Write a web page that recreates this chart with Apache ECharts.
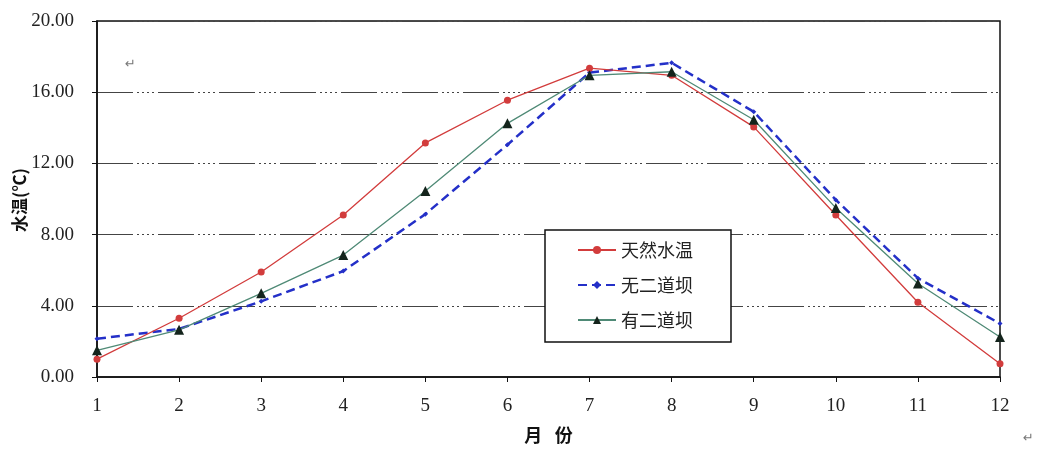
<!DOCTYPE html>
<html><head><meta charset="utf-8">
<script src="https://cdn.jsdelivr.net/npm/echarts@6/dist/echarts.min.js"></script>
<style>html,body{margin:0;padding:0;background:#fff}#c{width:1041px;height:450px}</style>
</head><body><div id="c"></div>
<script>
const months = [1,2,3,4,5,6,7,8,9,10,11,12];
const natural = [1.0,3.3,5.9,9.1,13.15,15.55,17.35,16.95,14.05,9.1,4.2,0.75];
const noDam = [2.15,2.7,4.25,5.95,9.15,13.05,17.1,17.65,14.9,9.95,5.55,3.0];
const withDam = [1.5,2.65,4.7,6.85,10.45,14.25,16.95,17.15,14.45,9.5,5.25,2.25];
const yTicks = [0,4,8,12,16,20];
const names = ['天然水温','无二道坝','有二道坝'];
const yName = '水温(℃)';
const xName = '月   份';
const pair = arr => months.map((m,i)=>[m,arr[i]]);
const serif = '"Liberation Serif", "Times New Roman", serif';
const cjk = '"Noto Sans CJK SC", sans-serif';
const chart = echarts.init(document.getElementById('c'));
chart.setOption({
  animation:false,
  backgroundColor:'#fff',
  grid:{left:97,right:41,top:21,bottom:73,outerBoundsMode:'none',containLabel:false,
    show:true,borderColor:'#111',borderWidth:1.5,backgroundColor:'transparent'},
  xAxis:{type:'value',min:1,max:12,interval:1,
    name:xName,nameLocation:'middle',nameGap:49,
    nameTextStyle:{fontFamily:cjk,fontWeight:'bold',fontSize:18,color:'#111'},
    axisLine:{lineStyle:{color:'#111',width:1.5}},
    axisTick:{show:true,length:5,lineStyle:{color:'#111'}},
    axisLabel:{fontFamily:serif,fontSize:19,color:'#222',margin:20},
    splitLine:{show:false}},
  yAxis:{type:'value',min:0,max:20,interval:4,
    axisLine:{show:true,lineStyle:{color:'#111',width:1.5}},
    axisTick:{show:true,length:5,lineStyle:{color:'#111'}},
    axisLabel:{fontFamily:serif,fontSize:19,color:'#222',margin:23,
      formatter:v=>yTicks.includes(v)?v.toFixed(2):''},
    splitLine:{show:true,lineStyle:{color:'#444',width:1,type:[36,4,2,3,2,3,2,3,2,4]}}},
  legend:{orient:'vertical',left:545,top:230,
    backgroundColor:'#fff',borderColor:'#111',borderWidth:1.5,
    padding:[11,38,13,32],itemGap:17,itemWidth:38,itemHeight:10,
    textStyle:{fontFamily:cjk,fontSize:18,color:'#222'},
    data:names},
  series:[
    {name:names[0],type:'line',data:pair(natural),symbol:'circle',symbolSize:7,
      lineStyle:{color:'#d23c3c',width:1.3},itemStyle:{color:'#d23c3c'},z:3},
    {name:names[1],type:'line',data:pair(noDam),symbol:'diamond',symbolSize:5,
      lineStyle:{color:'#2430c8',width:2.5,type:[9,5]},itemStyle:{color:'#2430c8'},z:2},
    {name:names[2],type:'line',data:pair(withDam),symbol:'triangle',symbolSize:10,
      lineStyle:{color:'#4f8a76',width:1.3},itemStyle:{color:'#14241c'},z:4}
  ],
  graphic:[
    {type:'text',x:20,y:200,rotation:Math.PI/2,z:10,
      style:{text:yName,fill:'#111',font:'bold 17px "Noto Sans CJK SC"',align:'center',verticalAlign:'middle'}},
    {type:'text',left:125,top:58,style:{text:'↵',fill:'#777',font:'13px "DejaVu Sans"'}},
    {type:'text',left:1023,top:432,style:{text:'↵',fill:'#777',font:'13px "DejaVu Sans"'}}
  ]
});
</script></body></html>
